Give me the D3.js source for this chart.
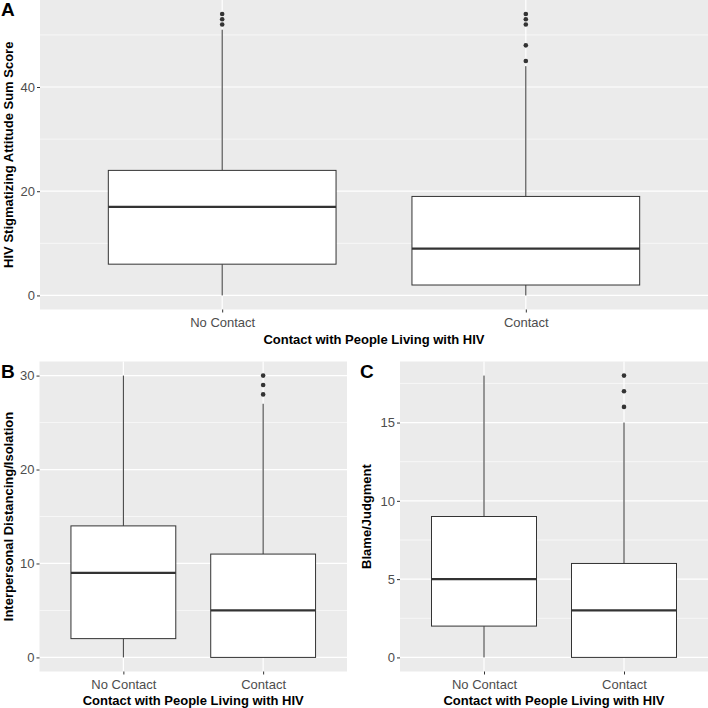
<!DOCTYPE html>
<html>
<head>
<meta charset="utf-8">
<script src="https://cdn.jsdelivr.net/npm/d3@7"></script>
<style>
  body { margin: 0; background: #fff; }
  svg { display: block; font-family: "Liberation Sans", Arial, sans-serif; }
</style>
</head>
<body>
<svg id="chart" width="708" height="708"></svg>
<script>
// categories on the x axis (same for all three panels)
const categories = ['No Contact', 'Contact'];

// box stats per category: [lower whisker, Q1, median, Q3, upper whisker]
const sumScoreStats = [[0, 6, 17, 24, 51], [0, 2, 9, 19, 44]];
const sumScoreOutliers = [[52, 53, 54], [45, 48, 52, 53, 54]];
const sumScoreTicks = [0, 20, 40];

const distancingStats = [[0, 2, 9, 14, 30], [0, 0, 5, 11, 27]];
const distancingOutliers = [[], [28, 29, 30]];
const distancingTicks = [0, 10, 20, 30];

const blameStats = [[0, 2, 5, 9, 18], [0, 0, 3, 6, 15]];
const blameOutliers = [[], [16, 17, 18]];
const blameTicks = [0, 5, 10, 15];

const xTitle = 'Contact with People Living with HIV';

const svg = d3.select('#chart');

const drawPanel = (cfg) => {
    const g = svg.append('g');
    const { left, right, top, bottom } = cfg;

    // y domain = data range with ggplot's 5% expansion
    const all = cfg.stats.flat().concat(cfg.outliers.flat());
    const lo = d3.min(all), hi = d3.max(all);
    const pad = (hi - lo) * 0.05;
    const y = d3.scaleLinear().domain([lo - pad, hi + pad]).range([bottom, top]);
    const x = d3.scalePoint().domain(categories).range([left, right]).padding(0.6);
    const boxW = x.step() * 0.75;

    // panel background
    g.append('rect')
        .attr('x', left).attr('y', top)
        .attr('width', right - left).attr('height', bottom - top)
        .attr('fill', '#EBEBEB');

    // minor grid
    const ticks = cfg.ticks;
    const stepT = ticks[1] - ticks[0];
    const minor = d3.range(ticks[0] - stepT / 2, hi + pad, stepT)
        .filter(v => v > lo - pad && v < hi + pad);
    g.selectAll('.minor').data(minor).join('line')
        .attr('x1', left).attr('x2', right)
        .attr('y1', d => y(d)).attr('y2', d => y(d))
        .attr('stroke', '#fff').attr('stroke-width', 0.6);

    // major grid
    g.selectAll('.majorY').data(ticks).join('line')
        .attr('x1', left).attr('x2', right)
        .attr('y1', d => y(d)).attr('y2', d => y(d))
        .attr('stroke', '#fff').attr('stroke-width', 1.2);
    g.selectAll('.majorX').data(categories).join('line')
        .attr('x1', d => x(d)).attr('x2', d => x(d))
        .attr('y1', top).attr('y2', bottom)
        .attr('stroke', '#fff').attr('stroke-width', 1.2);

    // boxes
    const box = g.selectAll('.box').data(categories).join('g');
    box.append('line')
        .attr('x1', d => x(d)).attr('x2', d => x(d))
        .attr('y1', (d, i) => y(cfg.stats[i][0])).attr('y2', (d, i) => y(cfg.stats[i][1]))
        .attr('stroke', '#333').attr('stroke-width', 1);
    box.append('line')
        .attr('x1', d => x(d)).attr('x2', d => x(d))
        .attr('y1', (d, i) => y(cfg.stats[i][3])).attr('y2', (d, i) => y(cfg.stats[i][4]))
        .attr('stroke', '#333').attr('stroke-width', 1);
    box.append('rect')
        .attr('x', d => x(d) - boxW / 2).attr('width', boxW)
        .attr('y', (d, i) => y(cfg.stats[i][3]))
        .attr('height', (d, i) => y(cfg.stats[i][1]) - y(cfg.stats[i][3]))
        .attr('fill', '#fff').attr('stroke', '#333').attr('stroke-width', 1);
    box.append('line')
        .attr('x1', d => x(d) - boxW / 2).attr('x2', d => x(d) + boxW / 2)
        .attr('y1', (d, i) => y(cfg.stats[i][2])).attr('y2', (d, i) => y(cfg.stats[i][2]))
        .attr('stroke', '#333').attr('stroke-width', 2.2);

    // outliers
    categories.forEach((c, i) => {
        g.selectAll(null).data(cfg.outliers[i]).join('circle')
            .attr('cx', x(c)).attr('cy', d => y(d)).attr('r', 2.3)
            .attr('fill', '#333');
    });

    // axes
    const yAxis = g.append('g')
        .attr('transform', `translate(${left},0)`)
        .call(d3.axisLeft(y).tickValues(ticks).tickSize(3).tickPadding(2));
    const xAxis = g.append('g')
        .attr('transform', `translate(0,${bottom})`)
        .call(d3.axisBottom(x).tickSize(3).tickPadding(5));
    [yAxis, xAxis].forEach(a => {
        a.select('.domain').remove();
        a.selectAll('.tick line').attr('stroke', '#333');
        a.selectAll('.tick text').attr('fill', '#4D4D4D').style('font-size', '13px');
    });

    // titles
    g.append('text')
        .attr('x', (left + right) / 2).attr('y', cfg.xTitleY)
        .attr('text-anchor', 'middle')
        .style('font-size', '13px').style('font-weight', 'bold')
        .text(xTitle);
    g.append('text')
        .attr('transform', `translate(${cfg.yTitleX},${(top + bottom) / 2}) rotate(-90)`)
        .attr('text-anchor', 'middle')
        .style('font-size', '13px').style('font-weight', 'bold')
        .text(cfg.yTitle);
    g.append('text')
        .attr('x', cfg.tagX).attr('y', cfg.tagY)
        .style('font-size', '19px').style('font-weight', 'bold')
        .text(cfg.tag);
};

drawPanel({
    tag: 'A', tagX: 1, tagY: 16,
    left: 40, right: 708, top: 0, bottom: 309.5,
    stats: sumScoreStats, outliers: sumScoreOutliers, ticks: sumScoreTicks,
    yTitle: 'HIV Stigmatizing Attitude Sum Score', yTitleX: 13, xTitleY: 344
});
drawPanel({
    tag: 'B', tagX: 1, tagY: 378,
    left: 39.5, right: 347, top: 361.5, bottom: 671.5,
    stats: distancingStats, outliers: distancingOutliers, ticks: distancingTicks,
    yTitle: 'Interpersonal Distancing/Isolation', yTitleX: 13, xTitleY: 704.5
});
drawPanel({
    tag: 'C', tagX: 360, tagY: 378,
    left: 400, right: 708, top: 361.5, bottom: 671.5,
    stats: blameStats, outliers: blameOutliers, ticks: blameTicks,
    yTitle: 'Blame/Judgment', yTitleX: 371, xTitleY: 704.5
});
</script>
</body>
</html>
